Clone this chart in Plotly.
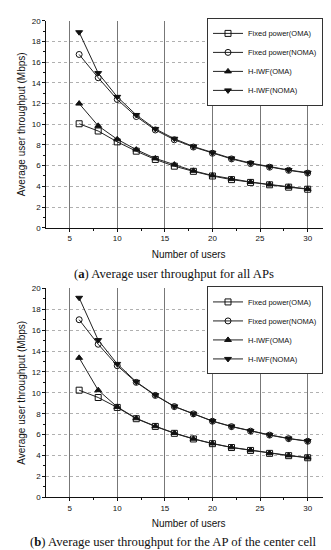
import plotly.graph_objects as go
from plotly.subplots import make_subplots

users = [6, 8, 10, 12, 14, 16, 18, 20, 22, 24, 26, 28, 30]

# (a) all APs
a_fixed_oma = [10.05, 9.35, 8.3, 7.4, 6.6, 5.95, 5.45, 5.0, 4.65, 4.38, 4.15, 3.92, 3.72]
a_fixed_noma = [16.75, 14.5, 12.4, 10.75, 9.45, 8.5, 7.8, 7.2, 6.65, 6.2, 5.85, 5.55, 5.28]
a_iwf_oma = [12.0, 9.85, 8.55, 7.55, 6.7, 6.1, 5.5, 5.05, 4.7, 4.42, 4.18, 3.95, 3.75]
a_iwf_noma = [18.9, 14.95, 12.65, 10.9, 9.55, 8.6, 7.85, 7.25, 6.7, 6.25, 5.9, 5.58, 5.32]

# (b) AP of the center cell
b_fixed_oma = [10.25, 9.55, 8.6, 7.52, 6.78, 6.12, 5.58, 5.13, 4.76, 4.48, 4.2, 3.98, 3.78]
b_fixed_noma = [17.0, 14.65, 12.6, 11.0, 9.75, 8.68, 7.98, 7.28, 6.76, 6.33, 5.95, 5.61, 5.36]
b_iwf_oma = [13.35, 10.25, 8.65, 7.56, 6.8, 6.15, 5.6, 5.15, 4.78, 4.5, 4.22, 4.0, 3.8]
b_iwf_noma = [19.1, 15.05, 12.77, 11.05, 9.78, 8.7, 8.0, 7.3, 6.78, 6.35, 5.97, 5.63, 5.38]

names = ["Fixed power(OMA)", "Fixed power(NOMA)", "H-IWF(OMA)", "H-IWF(NOMA)"]
symbols = ["square-open", "circle-open", "triangle-up", "triangle-down"]

x_ticks = [5, 10, 15, 20, 25, 30]
y_ticks = [0, 2, 4, 6, 8, 10, 12, 14, 16, 18, 20]

W, H = 331, 550
fig = make_subplots(rows=2, cols=1)

series_a = [a_fixed_oma, a_fixed_noma, a_iwf_oma, a_iwf_noma]
series_b = [b_fixed_oma, b_fixed_noma, b_iwf_oma, b_iwf_noma]

for row, series, leg in [(1, series_a, "legend"), (2, series_b, "legend2")]:
    for name, sym, vals in zip(names, symbols, series):
        fig.add_trace(go.Scatter(
            x=users, y=vals, mode="lines+markers", name=name,
            line=dict(color="#222222", width=1),
            marker=dict(symbol=sym, size=6, color="#111111",
                        line=dict(color="#111111", width=1)),
            legend=leg,
        ), row=row, col=1)

xdom = [38.3 / W, 323 / W]
ydom_a = [1 - 219.3 / H, 1 - 9 / H]
ydom_b = [1 - 493.3 / H, 1 - 281 / H]

axis_font = dict(family="Liberation Sans, Arial", size=8, color="#111")
title_font = dict(family="Liberation Sans, Arial", size=10, color="#111")

for i, yd in [(1, ydom_a), (2, ydom_b)]:
    xk = "xaxis" if i == 1 else "xaxis2"
    yk = "yaxis" if i == 1 else "yaxis2"
    fig.layout[xk].update(
        domain=xdom, range=[2.55, 32.45], tickvals=x_ticks,
        showgrid=True, gridcolor="#777777", gridwidth=1,
        showline=True, linecolor="#111", linewidth=1,
        ticks="outside", ticklen=3, tickcolor="#111",
        minor=dict(dtick=2.5, tick0=0, ticks="outside", ticklen=2, tickcolor="#111", showgrid=False),
        tickfont=axis_font, zeroline=False,
        title=dict(text="Number of users", font=title_font, standoff=8),
    )
    fig.layout[yk].update(
        domain=yd, range=[0, 20], tickvals=y_ticks,
        showgrid=True, gridcolor="#b0b0b0", gridwidth=1, griddash="dot",
        showline=True, linecolor="#111", linewidth=1,
        ticks="outside", ticklen=3, tickcolor="#111",
        minor=dict(dtick=1, ticks="outside", ticklen=2, tickcolor="#111", showgrid=False),
        tickfont=axis_font, zeroline=False,
        title=dict(text="Average user throughput (Mbps)", font=title_font, standoff=4),
    )

leg_common = dict(
    xanchor="left", yanchor="top", bgcolor="white",
    bordercolor="#333", borderwidth=1,
    font=dict(family="Liberation Sans, Arial", size=7.5, color="#111"),
    itemwidth=30, tracegroupgap=0,
)
cap_font = dict(family="Liberation Serif, serif", size=12.7, color="#111")
fig.update_layout(
    width=W, height=H, margin=dict(l=0, r=0, t=0, b=0),
    plot_bgcolor="white", paper_bgcolor="white",
    legend=dict(x=199 / W, y=1 - 6 / H, **leg_common),
    legend2=dict(x=199 / W, y=1 - 279 / H, **leg_common),
    annotations=[
        dict(text="(<b>a</b>) Average user throughput for all APs",
             x=0.5, y=1 - 266 / H, xref="paper", yref="paper",
             showarrow=False, xanchor="center", yanchor="middle", font=cap_font),
        dict(text="(<b>b</b>) Average user throughput for the AP of the center cell",
             x=0.5, y=1 - 539 / H, xref="paper", yref="paper",
             showarrow=False, xanchor="center", yanchor="middle", font=cap_font),
    ],
)

fig.write_html("out.html")
